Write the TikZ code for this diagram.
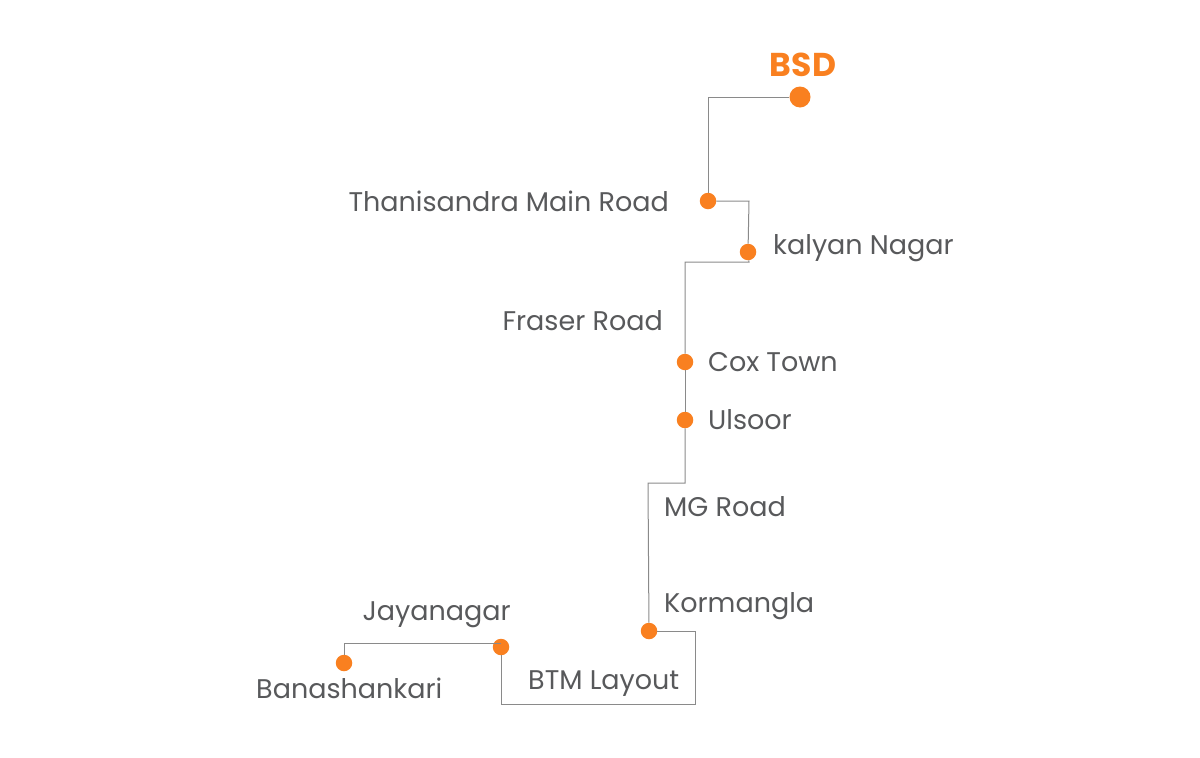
\documentclass[tikz,border=0pt]{standalone}
\usepackage{fontspec}
\setmainfont{Poppins}
\definecolor{stoporange}{HTML}{F98020}
\definecolor{stopgrey}{HTML}{58595B}
\definecolor{routegrey}{HTML}{8A8A8A}
\tikzset{
  stopdot/.style={circle,fill=stoporange,inner sep=0pt,minimum size=16.5pt},
  bigdot/.style={circle,fill=stoporange,inner sep=0pt,minimum size=21pt},
  stoplabel/.style={text=stopgrey,inner sep=0pt,font=\fontsize{27}{32}\selectfont},
  route/.style={draw=routegrey,line width=1pt}
}
\begin{document}
\begin{tikzpicture}[x=1pt,y=-1pt]
\useasboundingbox (0,0) rectangle (1200,758);
\coordinate (c1) at (708,97);
\coordinate (c2) at (749,201);
\coordinate (c3) at (749,262);
\coordinate (c4) at (685,262);
\coordinate (c5) at (685,483);
\coordinate (c6) at (648,483);
\coordinate (c7) at (695,631);
\coordinate (c8) at (695,704);
\coordinate (c9) at (501,704);
\coordinate (c10) at (344,643);

\node[bigdot] (bsd) at (800,97) {};
\node[stopdot] (thanisandra) at (708,201) {};
\node[stopdot] (kalyan) at (748,252) {};
\node[stopdot] (cox) at (685,362) {};
\node[stopdot] (ulsoor) at (685,420) {};
\node[stopdot] (kormangla) at (649,631) {};
\node[stopdot] (jayanagar) at (501,647) {};
\node[stopdot] (banashankari) at (344,663) {};

\begin{scope}[on background layer/.try]
\end{scope}
\draw[route] (bsd) -- (c1) -- (thanisandra);
\draw[route] (thanisandra) -- (c2) -- (kalyan);
\draw[route] (kalyan) -- (c3) -- (c4) -- (cox);
\draw[route] (cox) -- (ulsoor);
\draw[route] (ulsoor) -- (c5) -- (c6) -- (kormangla);
\draw[route] (kormangla) -- (c7) -- (c8) -- (c9) -- (jayanagar);
\draw[route] (jayanagar |- c10) -- (c10) -- (banashankari);

\node[text=stoporange,inner sep=0pt,font=\fontsize{33}{38}\selectfont\bfseries] (bsdtext) at (803,65) {BSD};
\node[stoplabel,anchor=east] (thanisandratext) at (669,201) {Thanisandra Main Road};
\node[stoplabel,anchor=west] (kalyantext) at (773,248) {kalyan Nagar};
\node[stoplabel,anchor=east] (frasertext) at (663,321) {Fraser Road};
\node[stoplabel,anchor=west] (coxtext) at (708,362) {Cox Town};
\node[stoplabel,anchor=west] (ulsoortext) at (708,420) {Ulsoor};
\node[stoplabel,anchor=west] (mgtext) at (664,507) {MG Road};
\node[stoplabel,anchor=west] (kormanglatext) at (664,606) {Kormangla};
\node[stoplabel,anchor=east] (jayanagartext) at (511,615) {Jayanagar};
\node[stoplabel,anchor=west] (btmtext) at (528,684) {BTM Layout};
\node[stoplabel,anchor=west] (banashankaritext) at (256,688) {Banashankari};
\end{tikzpicture}
\end{document}
